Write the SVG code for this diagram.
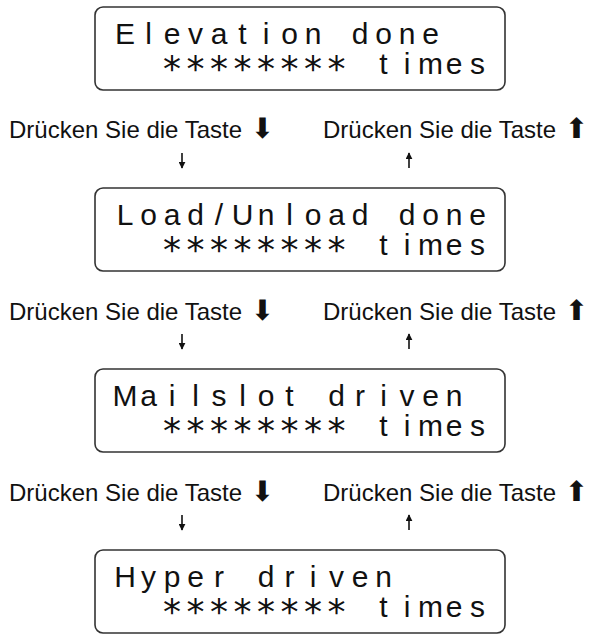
<svg xmlns="http://www.w3.org/2000/svg" width="593" height="635" viewBox="0 0 593 635">
<defs>
<marker id="ah" viewBox="0 0 10 10" refX="9" refY="5" markerWidth="7" markerHeight="7" markerUnits="userSpaceOnUse" orient="auto">
<path d="M0,0 L10,5 L0,10 z" fill="#111"/>
</marker>
<style>
.box{fill:#fff;stroke:#333;stroke-width:1.6}
.lcd{font-family:"Liberation Sans",Arial,sans-serif;font-size:30px;fill:#111;text-anchor:middle}
.ast{font-family:"DejaVu Sans",sans-serif;font-size:36px;fill:#111;text-anchor:middle}
.lbl{font-family:"Liberation Sans",Arial,sans-serif;font-size:24px;fill:#111}
.sym{font-family:"DejaVu Sans",sans-serif;font-size:28px;fill:#111}
.conn{stroke:#111;stroke-width:1.6;fill:none;marker-end:url(#ah)}
</style>
</defs>
<g id="node-elevation">
<rect class="box" x="95" y="7" width="410" height="83" rx="8"/>
<text class="lcd" y="44" x="125 148.5 172 195.5 219 242.5 266 289.5 313 336.5 360 383.5 407 430.5">Elevation done</text>
<text class="ast" y="81" x="172 195.5 219 242.5 266 289.5 313 336.5">********</text>
<text class="lcd" y="74" x="383.5 407 430.5 454 477.5">times</text>
</g>
<g id="node-load">
<rect class="box" x="95" y="188" width="410" height="83" rx="8"/>
<text class="lcd" y="225" x="125 148.5 172 195.5 219 242.5 266 289.5 313 336.5 360 383.5 407 430.5 454 477.5">Load/Unload done</text>
<text class="ast" y="262" x="172 195.5 219 242.5 266 289.5 313 336.5">********</text>
<text class="lcd" y="255" x="383.5 407 430.5 454 477.5">times</text>
</g>
<g id="node-mailslot">
<rect class="box" x="95" y="369" width="410" height="83" rx="8"/>
<text class="lcd" y="406" x="125 148.5 172 195.5 219 242.5 266 289.5 313 336.5 360 383.5 407 430.5 454">Mailslot driven</text>
<text class="ast" y="443" x="172 195.5 219 242.5 266 289.5 313 336.5">********</text>
<text class="lcd" y="436" x="383.5 407 430.5 454 477.5">times</text>
</g>
<g id="node-hyper">
<rect class="box" x="95" y="550" width="410" height="83" rx="8"/>
<text class="lcd" y="587" x="125 148.5 172 195.5 219 242.5 266 289.5 313 336.5 360 383.5">Hyper driven</text>
<text class="ast" y="624" x="172 195.5 219 242.5 266 289.5 313 336.5">********</text>
<text class="lcd" y="617" x="383.5 407 430.5 454 477.5">times</text>
</g>
<g id="labels">
<text class="lbl" x="9" y="138">Drücken Sie die Taste <tspan class="sym" dx="2">⬇</tspan></text>
<text class="lbl" x="323" y="138">Drücken Sie die Taste <tspan class="sym" dx="2">⬆</tspan></text>
<text class="lbl" x="9" y="320">Drücken Sie die Taste <tspan class="sym" dx="2">⬇</tspan></text>
<text class="lbl" x="323" y="320">Drücken Sie die Taste <tspan class="sym" dx="2">⬆</tspan></text>
<text class="lbl" x="9" y="501">Drücken Sie die Taste <tspan class="sym" dx="2">⬇</tspan></text>
<text class="lbl" x="323" y="501">Drücken Sie die Taste <tspan class="sym" dx="2">⬆</tspan></text>
</g>
<g id="connectors">
<line class="conn" x1="182" y1="153" x2="182" y2="168"/>
<line class="conn" x1="409" y1="168" x2="409" y2="153"/>
<line class="conn" x1="182" y1="334" x2="182" y2="349"/>
<line class="conn" x1="409" y1="349" x2="409" y2="334"/>
<line class="conn" x1="182" y1="515" x2="182" y2="530"/>
<line class="conn" x1="409" y1="530" x2="409" y2="515"/>
</g>
</svg>
